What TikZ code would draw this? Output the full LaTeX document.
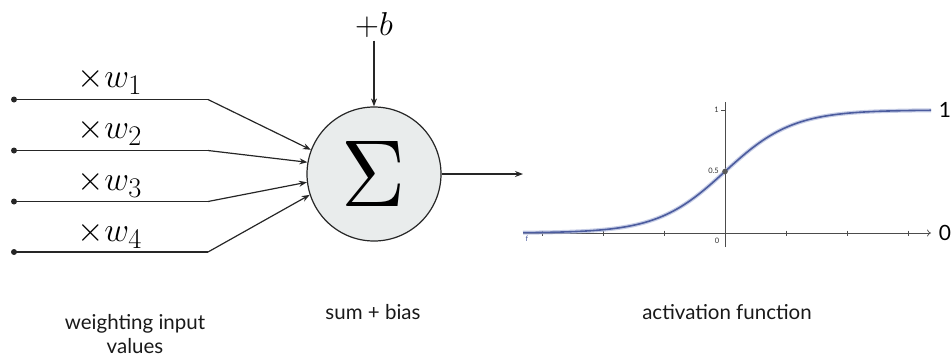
\documentclass[tikz,border=0pt]{standalone}
\usepackage{fontspec}
\usepackage{graphicx}
\usetikzlibrary{arrows.meta}
\newfontfamily\labfont{Lato}
\definecolor{sumfill}{HTML}{E9ECEC}
\definecolor{curveblue}{HTML}{4C5C9E}
\definecolor{halo}{HTML}{AEB8DC}
\newcommand{\bigmath}[2]{\scalebox{#1}{\fontsize{24.88}{25}\selectfont$#2$}}
\begin{document}
\begin{tikzpicture}[x=1pt,y=-1pt,
  wire/.style={line width=1.2pt, draw=black!85},
  arr/.style={wire,-{Stealth[length=8pt,width=6pt]}},
  lbl/.style={font=\labfont\fontsize{20.5}{24}\selectfont, align=center, inner sep=0pt, text=black!90},
  biglbl/.style={font=\labfont\fontsize{21}{21}\selectfont, inner sep=0pt},
  wlab/.style={inner sep=0pt},
  ax/.style={draw=black!70, line width=0.7pt},
  tinylbl/.style={font=\labfont\fontsize{7.5}{7.5}\selectfont, inner sep=0pt, text=black!80}
]
\useasboundingbox (0,0) rectangle (952,357);
% summation node
\node[circle, draw=black!85, line width=1.2pt, fill=sumfill, minimum size=134pt, inner sep=0pt] (sum) at (374,174) {\resizebox{64pt}{65pt}{$\Sigma$}};
% inputs
\foreach \i/\yy/\ang in {1/99.5/159, 2/150.5/170, 3/201.5/187, 4/252/198}{
  \coordinate (s\i) at (14,\yy);
  \coordinate (k\i) at (208,\yy);
  \fill[black!85] (s\i) circle (3pt);
  \draw[wire] (s\i) -- (k\i);
  \draw[arr] (k\i) -- (sum.\ang);
}
\node[wlab] (w1) at (110,81) {\bigmath{1.37}{\times w_1}};
\node[wlab] (w2) at (110,132) {\bigmath{1.37}{\times w_2}};
\node[wlab] (w3) at (110,184) {\bigmath{1.37}{\times w_3}};
\node[wlab] (w4) at (110,235) {\bigmath{1.37}{\times w_4}};
% bias
\node[inner sep=3pt] (b) at (374,25) {\bigmath{1.33}{+b}};
\draw[arr] (b.south) -- (sum.north);
% output
\coordinate (out) at (523,174);
\draw[arr] (sum.east) -- (out);
% activation plot
\coordinate (xl) at (523,233);
\coordinate (xr) at (931,233);
\coordinate (yb) at (725,247);
\coordinate (yt) at (725,102);
\draw[ax, -{To[length=4pt,width=7pt]}] (xl) -- (xr);
\draw[ax] (yb) -- (yt);
\foreach \xx in {542,603,664,786,847,908}{
  \draw[ax, line width=0.5pt] (\xx,230.5) -- (\xx,235.5);
}
\draw[ax, line width=0.5pt] (721,110) -- (725,110);
\node[tinylbl, anchor=east] (t1) at (719,110) {1};
\node[tinylbl, anchor=east] (t05) at (719,171) {0.5};
\node[tinylbl] (t0) at (717,241) {0};
\node[tinylbl, text=curveblue] (tf) at (527,239) {f};
\draw[halo, line width=4pt, opacity=0.7] plot[domain=523:931, samples=120] (\x, {233-123/(1+exp(-1.8*(\x-725)/61))});
\draw[curveblue, line width=1.6pt] plot[domain=523:931, samples=120] (\x, {233-123/(1+exp(-1.8*(\x-725)/61))});
\fill[black!65] (725,171.5) circle (2.8pt);
\node[biglbl] (one) at (945,110) {1};
\node[biglbl] (zero) at (945,233) {0};
% captions
\node[lbl] (wl) at (135,334) {weighting input\\values};
\node[lbl] (sl) at (373,312) {sum + bias};
\node[lbl] (al) at (727,312) {activation function};
\end{tikzpicture}
\end{document}
